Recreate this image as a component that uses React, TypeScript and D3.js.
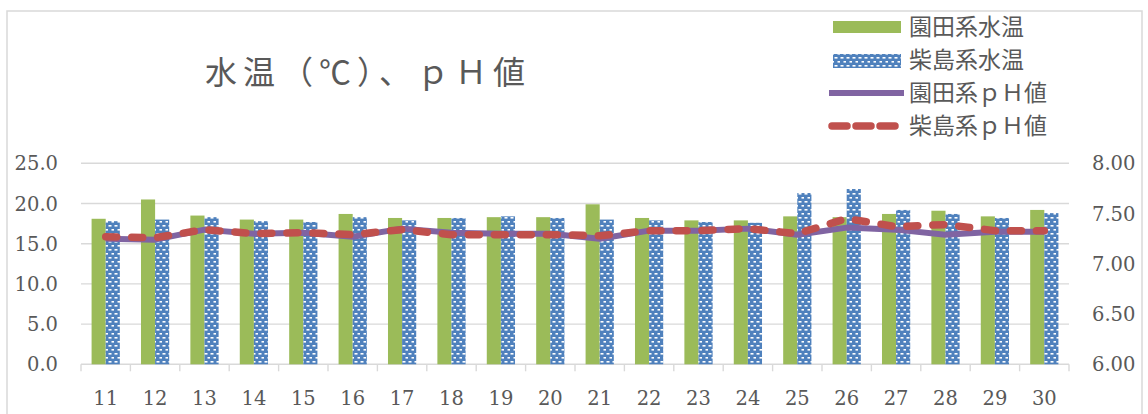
import React from "react";
import * as d3 from "d3";

const categories = ["11","12","13","14","15","16","17","18","19","20","21","22","23","24","25","26","27","28","29","30"];
const sonodaTemp = [18.1,20.5,18.5,18.0,18.0,18.7,18.2,18.2,18.3,18.3,19.9,18.2,17.9,17.9,18.4,18.3,18.7,19.1,18.4,19.2];
const shibajimaTemp = [17.8,18.0,18.3,17.8,17.7,18.3,17.9,18.2,18.4,18.2,18.0,17.9,17.7,17.6,21.3,21.8,19.2,18.7,18.2,18.8];
const sonodaPH = [7.25,7.24,7.34,7.30,7.31,7.27,7.35,7.31,7.30,7.30,7.25,7.33,7.33,7.35,7.29,7.36,7.34,7.29,7.32,7.32];
const shibajimaPH = [7.27,7.26,7.34,7.30,7.31,7.29,7.34,7.29,7.29,7.29,7.28,7.33,7.33,7.35,7.30,7.45,7.37,7.39,7.33,7.33];
const leftTicks = [0, 5, 10, 15, 20, 25];
const rightTicks = [6.0, 6.5, 7.0, 7.5, 8.0];
const legendLabels = ["園田系水温", "柴島系水温", "園田系ｐＨ値", "柴島系ｐＨ値"];
const title = "水温（℃）、ｐＨ値";

const GREEN = "#9BBB59";
const BLUE = "#4F81BD";
const PURPLE = "#8064A2";
const RED = "#C0504D";
const GRID = "#D9D9D9";
const TEXT = "#595959";

export default function App() {
  const W = 1148, H = 414;
  const x0 = 81, x1 = 1069, yTop = 163.3, yBot = 364.3;
  const x = d3.scaleBand<string>().domain(categories).range([x0, x1]).paddingInner(0).paddingOuter(0);
  const yL = d3.scaleLinear().domain([0, 25]).range([yBot, yTop]);
  const yR = d3.scaleLinear().domain([6, 8]).range([yBot, yTop]);
  const bw = x.bandwidth();
  const barW = bw / 3.5;
  const cx = (c: string) => (x(c) as number) + bw / 2;

  const line = d3.line<number>().x((_, i) => cx(categories[i])).y((d) => yR(d));

  const serifStyle = { fontFamily: "'DejaVu Serif', 'Liberation Serif', 'Times New Roman', serif" };
  const cjk = "'Noto Sans CJK JP', sans-serif";
  const fs = 19.5;

  return (
    <svg width={W} height={H} style={{ position: "absolute", left: 0, top: 0, background: "#fff" }}>
      <defs>
        <pattern id="bluePat" patternUnits="userSpaceOnUse" width={6} height={8} x={0} y={0}>
          <rect x={0} y={0} width={6} height={8} fill={BLUE} />
          <rect x={0.5} y={1} width={3} height={1.6} fill="#fff" />
          <rect x={3.5} y={5} width={3} height={1.6} fill="#fff" />
        </pattern>
      </defs>
      <rect x={0} y={0} width={W} height={H} fill="#fff" />
      <rect x={7} y={11} width={1135} height={420} fill="none" stroke={GRID} strokeWidth={1.5} />

      <text x={205} y={84} style={{ fontFamily: cjk }} fontSize={32} letterSpacing={6} fill={TEXT}>{title}</text>

      {leftTicks.map((t) => (
        <line key={"g" + t} x1={x0} x2={x1} y1={yL(t)} y2={yL(t)} stroke={GRID} strokeWidth={1.4} />
      ))}
      {categories.concat(["end"]).map((c, i) => {
        const xx = i < categories.length ? (x(c) as number) : x1;
        return <line key={"t" + i} x1={xx} x2={xx} y1={yBot} y2={yBot + 7} stroke={GRID} strokeWidth={1.4} />;
      })}

      {categories.map((c, i) => (
        <g key={"b" + c}>
          <rect x={cx(c) - barW} y={yL(sonodaTemp[i])} width={barW} height={yBot - yL(sonodaTemp[i])} fill={GREEN} />
          <rect x={cx(c)} y={yL(shibajimaTemp[i])} width={barW} height={yBot - yL(shibajimaTemp[i])} fill="url(#bluePat)" />
        </g>
      ))}

      <path d={line(sonodaPH) || ""} fill="none" stroke={PURPLE} strokeWidth={6} strokeLinejoin="round" />
      <path d={line(shibajimaPH) || ""} fill="none" stroke={RED} strokeWidth={7.5} strokeLinecap="round" strokeLinejoin="round" strokeDasharray="11 15" />

      {leftTicks.map((t) => (
        <text key={"l" + t} x={58} y={yL(t)} dy="0.36em" textAnchor="end" style={serifStyle} fontSize={fs} fill={TEXT}>
          {t.toFixed(1)}
        </text>
      ))}
      {rightTicks.map((t) => (
        <text key={"r" + t} x={1092} y={yR(t)} dy="0.36em" textAnchor="start" style={serifStyle} fontSize={fs} fill={TEXT}>
          {t.toFixed(2)}
        </text>
      ))}
      {categories.map((c) => (
        <text key={"x" + c} x={cx(c)} y={405} textAnchor="middle" style={serifStyle} fontSize={fs} fill={TEXT}>
          {c}
        </text>
      ))}

      <g>
        <rect x={833} y={21} width={68} height={12} fill={GREEN} />
        <rect x={833} y={54} width={68} height={14} fill="url(#bluePat)" />
        <line x1={829} x2={904} y1={93} y2={93} stroke={PURPLE} strokeWidth={6} />
        <line x1={832} x2={904} y1={126} y2={126} stroke={RED} strokeWidth={7.5} strokeLinecap="round" strokeDasharray="15 9" />
        {legendLabels.map((l, i) => (
          <text key={"lg" + i} x={909} y={27 + i * 33} dy="0.36em" style={{ fontFamily: cjk }} fontSize={23} fill={TEXT}>
            {l}
          </text>
        ))}
      </g>
    </svg>
  );
}
